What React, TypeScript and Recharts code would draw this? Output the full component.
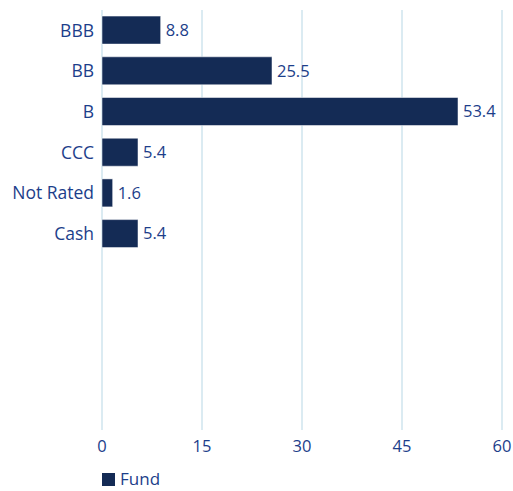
import React from 'react';
import { BarChart, Bar, XAxis, YAxis, CartesianGrid, Legend, LabelList } from 'recharts';

const categories = ['BBB', 'BB', 'B', 'CCC', 'Not Rated', 'Cash', ' ', '  ', '   ', '    '];
const fundValues: (number | null)[] = [8.8, 25.5, 53.4, 5.4, 1.6, 5.4, null, null, null, null];
const xTicks = [0, 15, 30, 45, 60];

const data = categories.map((c, i) => ({ name: c, fund: fundValues[i] }));

const BAR = '#142b55';
const TEXT = '#1c3e8a';
const GRID = '#cfe5ee';
const FONT = '"Open Sans", sans-serif';
const FS = 16.5;

const LegendContent = () => (
  <div style={{ display: 'flex', alignItems: 'center', fontFamily: FONT, fontSize: 17, color: TEXT, lineHeight: '18px' }}>
    <span style={{ display: 'inline-block', width: 13, height: 13, background: BAR, marginRight: 5 }} />
    <span>Fund</span>
  </div>
);

export default function App() {
  return (
    <div style={{ position: 'absolute', left: 0, top: 0 }}>
      <BarChart
        width={513}
        height={491}
        data={data}
        layout="vertical"
        margin={{ top: 10, right: 11, bottom: 13, left: 0 }}
        barCategoryGap="15%"
      >
        <CartesianGrid horizontal={false} vertical={true} stroke={GRID} strokeWidth={1.5} />
        <XAxis
          type="number"
          domain={[0, 60]}
          ticks={xTicks}
          axisLine={false}
          tickLine={false}
          tickSize={0}
          tickMargin={10}
          height={30}
          tick={{ fill: TEXT, fontSize: FS, fontFamily: FONT }}
        />
        <YAxis
          type="category"
          dataKey="name"
          width={102}
          axisLine={false}
          tickLine={false}
          tickSize={0}
          tickMargin={8}
          interval={0}
          padding={{ top: 0, bottom: 13 }}
          tick={{ fill: TEXT, fontSize: 17.5, fontFamily: FONT }}
        />
        <Legend
          verticalAlign="bottom"
          align="left"
          content={<LegendContent />}
          wrapperStyle={{ left: 102, bottom: 3, width: 100 }}
        />
        <Bar dataKey="fund" fill={BAR} stroke="#ffffff" strokeWidth={0.5} isAnimationActive={false}>
          <LabelList dataKey="fund" position="right" offset={5} fill={TEXT} fontSize={FS} fontFamily={FONT} />
        </Bar>
      </BarChart>
    </div>
  );
}
